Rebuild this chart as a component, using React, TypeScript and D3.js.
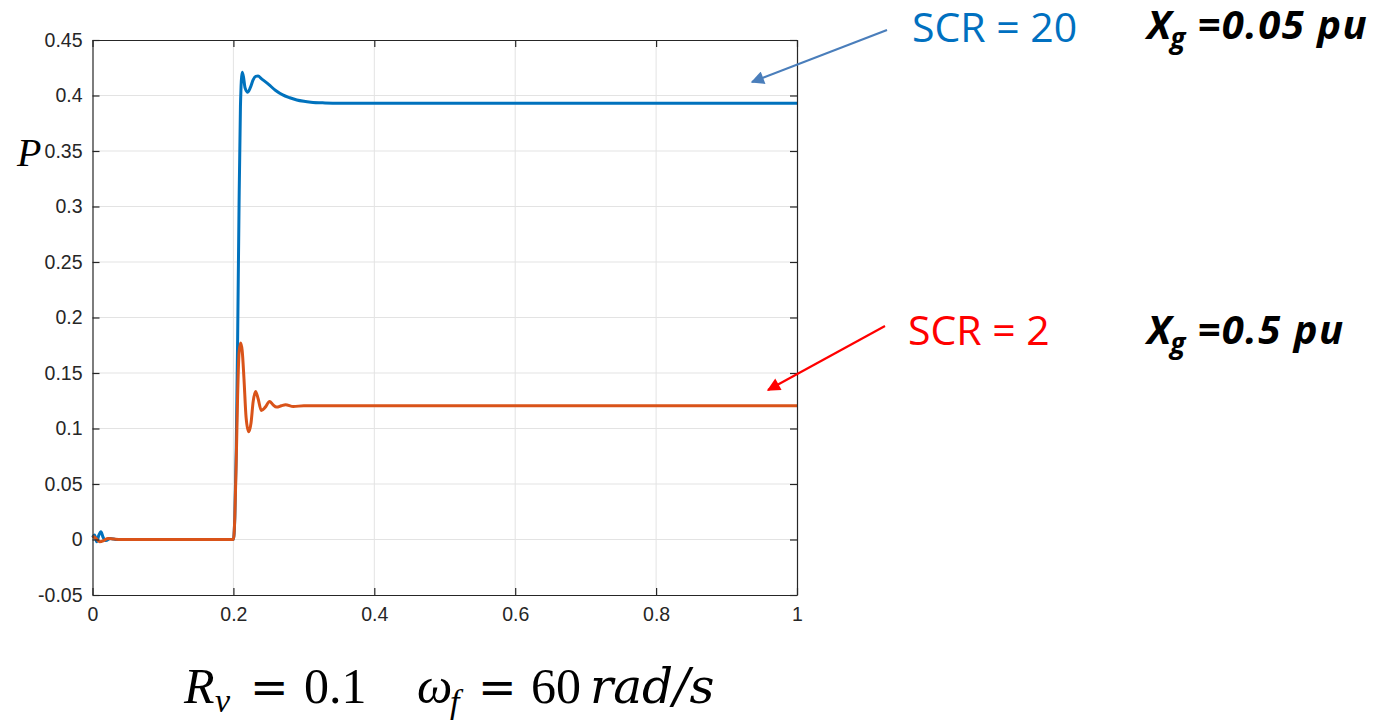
import React, { useEffect, useRef } from 'react';
import * as d3 from 'd3';

// SCR = 20 (Xg = 0.05 pu)
const timeStrong = [0, 0.003, 0.006, 0.009, 0.012, 0.015, 0.019, 0.025, 0.035, 0.2, 0.202, 0.204, 0.206, 0.208, 0.21, 0.2125, 0.2145, 0.2165, 0.2205, 0.224, 0.228, 0.2315, 0.235, 0.24, 0.25, 0.26, 0.27, 0.28, 0.29, 0.3, 0.31, 0.33, 0.35, 1];
const powerStrong = [0.002, 0.004, -0.002, 0.004, 0.007, 0.002, -0.001, 0.001, 0, 0, 0.02, 0.08, 0.18, 0.3, 0.39, 0.421, 0.416, 0.407, 0.403, 0.407, 0.414, 0.4172, 0.4175, 0.415, 0.41, 0.4045, 0.4005, 0.398, 0.396, 0.3948, 0.394, 0.3933, 0.393, 0.393];

// SCR = 2 (Xg = 0.5 pu)
const timeWeak = [0, 0.005, 0.01, 0.016, 0.022, 0.03, 0.04, 0.2, 0.202, 0.204, 0.206, 0.208, 0.2102, 0.2125, 0.215, 0.218, 0.2216, 0.225, 0.228, 0.2315, 0.235, 0.2396, 0.245, 0.2514, 0.256, 0.2614, 0.268, 0.274, 0.285, 0.3, 1];
const powerWeak = [0.003, 0.001, -0.002, -0.001, 0.001, 0.0005, 0, 0, 0.02, 0.07, 0.13, 0.168, 0.177, 0.17, 0.145, 0.11, 0.097, 0.105, 0.124, 0.1334, 0.127, 0.1163, 0.119, 0.1244, 0.1215, 0.1193, 0.1205, 0.1215, 0.1198, 0.1205, 0.1205];

const xTicks = [0, 0.2, 0.4, 0.6, 0.8, 1];
const yTicks = [-0.05, 0, 0.05, 0.1, 0.15, 0.2, 0.25, 0.3, 0.35, 0.4, 0.45];

const W = 1388;
const H = 721;

const App = () => {
  const ref = useRef<SVGSVGElement>(null);

  useEffect(() => {
    const svg = d3.select(ref.current);
    svg.selectAll('*').remove();

    const x = d3.scaleLinear().domain([0, 1]).range([92.5, 797]);
    const y = d3.scaleLinear().domain([-0.05, 0.45]).range([595, 40]);

    svg.append('rect').attr('width', W).attr('height', H).attr('fill', '#fff');

    // grid
    const grid = svg.append('g').attr('stroke', '#e3e3e3').attr('stroke-width', 1);
    xTicks.slice(1, -1).forEach(t => {
      grid.append('line').attr('x1', x(t)).attr('x2', x(t)).attr('y1', y(-0.05)).attr('y2', y(0.45));
    });
    yTicks.slice(1, -1).forEach(t => {
      grid.append('line').attr('x1', x(0)).attr('x2', x(1)).attr('y1', y(t)).attr('y2', y(t));
    });

    // lines
    const line = d3.line<[number, number]>()
      .x(d => x(d[0]))
      .y(d => y(d[1]))
      .curve(d3.curveMonotoneX);

    const strong = timeStrong.map((t, i) => [t, powerStrong[i]] as [number, number]);
    const weak = timeWeak.map((t, i) => [t, powerWeak[i]] as [number, number]);

    svg.append('path').attr('d', line(strong)).attr('fill', 'none')
      .attr('stroke', '#0072BD').attr('stroke-width', 3).attr('stroke-linejoin', 'round');
    svg.append('path').attr('d', line(weak)).attr('fill', 'none')
      .attr('stroke', '#D95319').attr('stroke-width', 3).attr('stroke-linejoin', 'round');

    // axes (MATLAB style, ticks inside, box on)
    const fmt = (d: d3.NumberValue) => String(+(+d).toFixed(2));
    const styleAxis = (g: d3.Selection<SVGGElement, unknown, null, undefined>) => {
      g.select('.domain').attr('stroke', '#262626').attr('stroke-width', 1.2);
      g.selectAll('.tick line').attr('stroke', '#262626').attr('stroke-width', 1.2);
      g.selectAll('.tick text').attr('fill', '#262626')
        .style('font-family', '"Liberation Sans", Arial, sans-serif').style('font-size', '19.5px');
    };

    svg.append('g').attr('transform', `translate(0,${y(-0.05)})`)
      .call(d3.axisBottom(x).tickValues(xTicks).tickFormat(fmt).tickSizeInner(-7).tickSizeOuter(0).tickPadding(12))
      .call(styleAxis);
    svg.append('g').attr('transform', `translate(0,${y(0.45)})`)
      .call(d3.axisTop(x).tickValues(xTicks).tickFormat(() => '').tickSizeInner(-7).tickSizeOuter(0))
      .call(styleAxis);
    svg.append('g').attr('transform', `translate(${x(0)},0)`)
      .call(d3.axisLeft(y).tickValues(yTicks).tickFormat(fmt).tickSizeInner(-7).tickSizeOuter(0).tickPadding(10))
      .call(styleAxis);
    svg.append('g').attr('transform', `translate(${x(1)},0)`)
      .call(d3.axisRight(y).tickValues(yTicks).tickFormat(() => '').tickSizeInner(-7).tickSizeOuter(0))
      .call(styleAxis);

    // y label
    svg.append('text').attr('x', 17).attr('y', 166).text('P')
      .style('font-family', '"Liberation Serif", "DejaVu Serif", serif')
      .style('font-style', 'italic').style('font-size', '40px').attr('fill', '#000');

    // arrows
    const defs = svg.append('defs');
    const marker = (id: string, color: string) => {
      defs.append('marker').attr('id', id).attr('viewBox', '0 0 10 10')
        .attr('refX', 9).attr('refY', 5).attr('markerWidth', 6.5).attr('markerHeight', 6)
        .attr('markerUnits', 'strokeWidth').attr('orient', 'auto')
        .append('path').attr('d', 'M0,0L10,5L0,10Z').attr('fill', color);
    };
    marker('arBlue', '#4A7EBB');
    marker('arRed', '#FF0000');

    svg.append('line').attr('x1', 887).attr('y1', 30).attr('x2', 752).attr('y2', 82)
      .attr('stroke', '#4A7EBB').attr('stroke-width', 2.2).attr('marker-end', 'url(#arBlue)');
    svg.append('line').attr('x1', 885).attr('y1', 326).attr('x2', 768).attr('y2', 390)
      .attr('stroke', '#FF0000').attr('stroke-width', 2.2).attr('marker-end', 'url(#arRed)');

    // annotations
    const sans = '"Open Sans", "Noto Sans", sans-serif';
    svg.append('text').attr('x', 912).attr('y', 42).text('SCR = 20')
      .attr('fill', '#0070C0').style('font-family', sans).style('font-size', '41px');
    svg.append('text').attr('x', 908).attr('y', 345).text('SCR = 2')
      .attr('fill', '#FF0000').style('font-family', sans).style('font-size', '41px');

    const xg = (yy: number, val: string) => {
      const t = svg.append('text').attr('x', 1147).attr('y', yy)
        .style('font-family', sans).style('font-weight', 'bold').style('font-style', 'italic')
        .style('font-size', '40px').attr('fill', '#000');
      t.append('tspan').text('X');
      t.append('tspan').attr('dx', -1).attr('dy', 9).style('font-size', '28px').text('g');
      t.append('tspan').attr('dx', 12).attr('dy', -9).style('letter-spacing', '1.5px').text(val);
    };
    xg(39, '=0.05 pu');
    xg(344, '=0.5 pu');

    // bottom formula
    const serif = '"Liberation Serif", "DejaVu Serif", serif';
    const f = svg.append('g').attr('fill', '#000');
    const piece = (xx: number, yy: number, s: string, italic: boolean, size = 48, family = serif) => {
      f.append('text').attr('x', xx).attr('y', yy).text(s)
        .style('font-family', family)
        .style('font-style', italic ? 'italic' : 'normal').style('font-size', `${size}px`);
    };
    const dv = '"DejaVu Serif", serif';
    piece(184, 703, 'R', true, 50);
    piece(215, 712, 'v', true, 34);
    piece(250, 703, '=', false, 46, dv);
    piece(304, 703, '0.1', false, 50);
    piece(417, 703, 'ω', true, 50);
    piece(450, 713, 'f', true, 34);
    piece(478, 703, '=', false, 46, dv);
    piece(531, 703, '60', false, 50);
    piece(590, 703, 'rad/s', true, 48.5, dv);
  }, []);

  return (
    <svg
      ref={ref}
      width={W}
      height={H}
      style={{ position: 'absolute', left: 0, top: 0, display: 'block' }}
    />
  );
};

export default App;
